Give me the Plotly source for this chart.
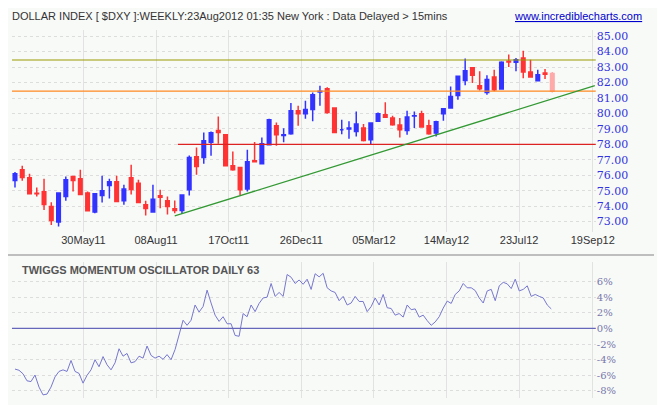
import plotly.graph_objects as go
import pandas as pd

opens  = [75.66,76.36,75.84,74.84,74.93,73.98,72.98,74.63,75.92,75.77,74.86,73.63,74.69,75.34,75.58,74.35,75.84,75.49,74.09,73.63,74.67,74.35,73.83,73.72,75.06,77.20,77.15,78.13,78.90,78.62,76.61,76.51,75.12,76.94,76.74,77.98,79.21,78.58,78.69,80.18,79.98,80.26,81.39,81.60,80.35,78.95,79.00,78.84,79.06,78.30,79.49,79.92,79.70,79.25,78.90,79.83,79.98,79.21,78.73,79.98,80.35,81.17,82.14,82.96,81.80,81.36,82.36,81.58,83.37,83.31,83.59,82.68,82.12,82.62,82.58]
highs  = [76.22,76.61,76.10,75.21,75.77,74.26,74.86,75.92,75.97,76.35,74.95,74.86,75.97,75.77,75.97,75.38,76.68,75.71,74.35,75.38,75.06,74.63,74.37,74.73,77.28,77.80,78.77,78.84,79.81,78.62,77.54,76.51,77.65,78.15,78.45,79.66,79.42,79.05,80.67,80.50,80.83,81.36,81.80,81.69,80.35,79.60,79.49,80.13,79.31,79.38,80.07,80.72,79.85,79.70,80.18,80.13,80.18,79.60,79.53,80.31,81.75,82.45,83.55,83.00,82.73,82.47,82.83,83.37,83.81,83.59,84.06,83.48,82.83,82.88,82.69]
lows   = [75.21,75.64,74.80,74.63,73.76,72.79,72.68,74.35,74.95,74.76,73.70,73.55,74.24,74.50,74.30,74.09,74.76,74.24,73.40,73.63,73.87,73.46,73.55,73.50,74.69,76.03,76.74,77.26,78.04,76.61,76.29,74.73,74.95,76.87,76.74,77.98,77.91,78.13,78.62,79.21,79.66,79.49,80.50,79.98,78.77,78.66,78.36,78.51,78.19,77.98,79.49,79.75,79.20,78.44,78.62,79.06,79.12,78.62,78.51,79.53,80.35,80.89,81.82,81.97,81.49,81.21,81.43,81.54,83.00,82.73,82.27,82.36,82.12,82.23,81.36]
closes = [76.10,75.86,74.80,74.80,74.11,73.07,74.86,75.71,75.66,74.76,73.70,74.80,75.00,75.58,74.30,75.12,75.08,74.24,73.85,74.45,74.58,73.98,73.72,74.73,77.15,76.57,78.23,78.75,78.77,76.61,76.35,75.06,76.87,76.87,78.04,79.59,78.62,78.62,80.18,79.98,80.26,81.21,81.43,80.07,78.77,78.95,79.06,79.31,78.25,79.38,79.98,79.75,79.27,78.95,79.77,79.85,79.12,78.69,79.47,80.31,81.10,82.40,82.77,82.47,81.60,82.19,81.54,83.31,83.33,83.48,82.68,82.36,82.51,82.53,81.43]
weeks = pd.date_range(end="2012-08-24", periods=len(closes), freq="W-FRI")

osc = [-5.2,-5.35,-5.8,-6.7,-6.8,-5.96,-7.5,-8.5,-8.4,-7.5,-6.2,-5.5,-5.3,-5.5,-4.1,-5.5,-5.75,-7.0,-6.0,-5.3,-4.0,-4.9,-3.6,-4.65,-5.3,-4.4,-2.6,-3.55,-3.2,-4.4,-4.25,-3.55,-3.8,-2.25,-3.45,-3.8,-3.55,-3.95,-3.35,-4.0,-2.7,-0.9,1.05,0.4,1.05,3.0,2.1,2.8,4.9,3.25,1.7,0.9,1.5,0.6,0.6,-0.9,-1.0,1.9,1.5,3.0,2.15,3.2,3.9,4.0,5.75,4.1,4.6,4.1,6.9,6.55,5.75,6.2,5.65,6.3,4.99,7.0,6.6,7.05,5.2,4.8,4.6,3.55,4.1,3.0,3.25,4.1,3.45,3.45,2.15,2.8,3.9,3.0,4.35,2.65,2.55,1.7,1.9,1.45,3.0,2.4,2.5,1.45,1.7,1.0,0.4,0.83,1.5,2.6,3.5,3.2,4.35,4.8,5.75,5.2,5.2,4.85,3.9,3.25,4.8,5.0,3.55,5.45,5.9,5.7,5.1,6.3,4.8,5.0,5.45,4.1,4.35,4.1,3.9,3.0,2.5]
osc_dates = pd.date_range("2011-03-25", "2012-08-23", periods=len(osc))

tick_dates = ["2011-05-30","2011-08-08","2011-10-17","2011-12-26","2012-03-05","2012-05-14","2012-07-23","2012-10-02"]
tick_text = ["30May11","08Aug11","17Oct11","26Dec11","05Mar12","14May12","23Jul12","19Sep12"]
resist_hi, resist_lo, support = 83.46, 81.45, 78.0
trend_dates = ["2011-08-26","2012-10-04"]
trend_vals = [73.37, 81.80]
xr = ["2011-03-22","2012-10-05"]

H = 405.0
def py(px):
    return 1 - (px - 8) / H

fig = go.Figure()
fig.add_trace(go.Candlestick(x=weeks[:-1], open=opens[:-1], high=highs[:-1], low=lows[:-1], close=closes[:-1],
    increasing=dict(line=dict(color="#3333ff", width=1.5), fillcolor="#3333ff"),
    decreasing=dict(line=dict(color="#ff3333", width=1.5), fillcolor="#ff3333"),
    whiskerwidth=0, showlegend=False, hoverinfo="skip"))
fig.add_trace(go.Candlestick(x=weeks[-1:], open=opens[-1:], high=highs[-1:], low=lows[-1:], close=closes[-1:],
    increasing=dict(line=dict(color="#ffaaaa", width=1.5), fillcolor="#ffaaaa"),
    decreasing=dict(line=dict(color="#ffaaaa", width=1.5), fillcolor="#ffaaaa"),
    whiskerwidth=0, showlegend=False))
fig.add_trace(go.Scatter(x=xr, y=[resist_hi]*2, mode="lines", line=dict(color="#999900", width=1.2), showlegend=False))
fig.add_trace(go.Scatter(x=xr, y=[resist_lo]*2, mode="lines", line=dict(color="#ff8822", width=1.2), showlegend=False))
fig.add_trace(go.Scatter(x=["2011-08-29", xr[1]], y=[support]*2, mode="lines", line=dict(color="#dd2222", width=1.2), showlegend=False))
fig.add_trace(go.Scatter(x=trend_dates, y=trend_vals, mode="lines", line=dict(color="#339933", width=1.3), showlegend=False))
fig.add_trace(go.Scatter(x=osc_dates, y=osc, mode="lines", line=dict(color="#7777cc", width=1), xaxis="x2", yaxis="y2", showlegend=False))
fig.add_trace(go.Scatter(x=xr, y=[0, 0], mode="lines", line=dict(color="#6666bb", width=1.2), xaxis="x2", yaxis="y2", showlegend=False))

grid = dict(showgrid=True, gridcolor="#dddddd", griddash="dot", gridwidth=1)
fig.update_layout(
    width=665, height=405, margin=dict(l=0, r=0, t=0, b=0),
    paper_bgcolor="#f8faf8", plot_bgcolor="#f8faf8",
    xaxis=dict(domain=[0.006, 0.91], range=xr, type="date", rangeslider=dict(visible=False),
               tickvals=tick_dates, ticktext=tick_text, anchor="y", showgrid=True, gridcolor="#e2e2e2",
               tickfont=dict(family="Arial, Liberation Sans", size=11, color="#333333"), ticks="", zeroline=False),
    yaxis=dict(domain=[py(232), py(30)], range=[72.33, 85.4], side="right", anchor="x",
               tickvals=list(range(73, 86)), ticktext=[f"{v}.00" for v in range(73, 86)],
               tickfont=dict(family="DejaVu Serif", size=11, color="#3333dd"), **grid, zeroline=False),
    xaxis2=dict(domain=[0.006, 0.91], range=xr, type="date", anchor="y2", tickvals=tick_dates,
                showticklabels=False, showgrid=True, gridcolor="#e2e2e2", zeroline=False),
    yaxis2=dict(domain=[py(398), py(262)], range=[-8.9, 8.5], side="right", anchor="x2",
                tickvals=list(range(-8, 7, 2)), ticktext=[f"{v}%" for v in range(-8, 7, 2)],
                tickfont=dict(family="DejaVu Serif", size=10, color="#7777aa"), **grid, zeroline=False),
    shapes=[dict(type="line", xref="paper", yref="paper", x0=0, x1=1, y0=py(255), y1=py(255),
                 line=dict(color="#aaaaaa", width=1.5))],
    annotations=[
        dict(text="DOLLAR INDEX [ $DXY ]:WEEKLY:23Aug2012 01:35 New York : Data Delayed > 15mins",
             x=2/665, y=1, xref="paper", yref="paper", xanchor="left", yanchor="top", showarrow=False,
             font=dict(family="Arial, Liberation Sans", size=11, color="#333333")),
        dict(text="<u>www.incrediblecharts.com</u>", x=655/665, y=1, xref="paper", yref="paper",
             xanchor="right", yanchor="top", showarrow=False,
             font=dict(family="Arial, Liberation Sans", size=11, color="#0000cc")),
        dict(text="<b>TWIGGS MOMENTUM OSCILLATOR DAILY 63</b>", x=12/665, y=py(262), xref="paper", yref="paper",
             xanchor="left", yanchor="top", showarrow=False,
             font=dict(family="Liberation Sans Narrow, Arial", size=11, color="#555555")),
    ],
)
fig.write_html("out.html")
